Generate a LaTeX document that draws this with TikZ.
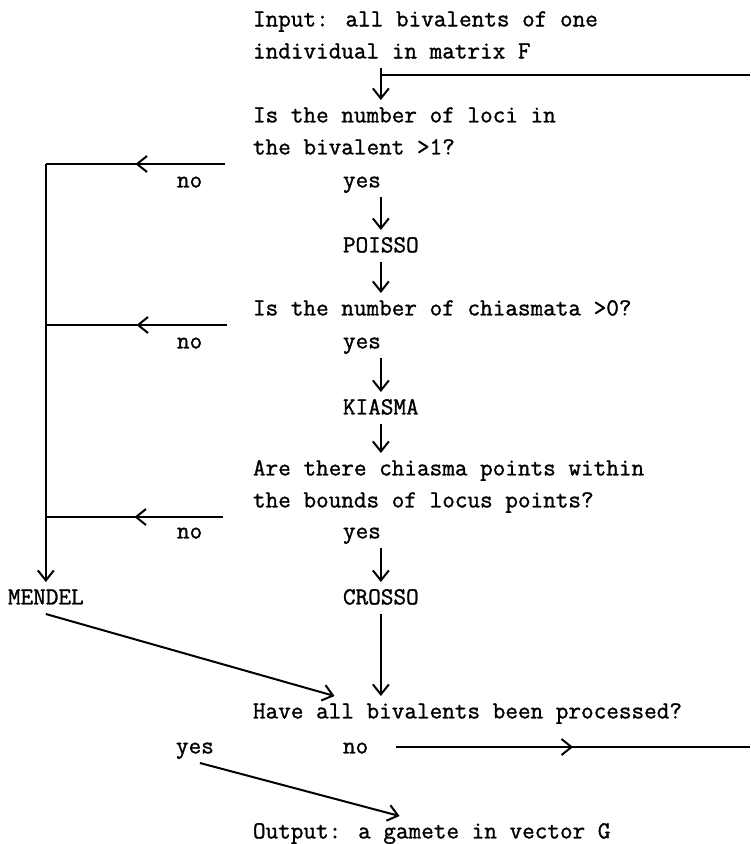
\documentclass[tikz,border=0pt]{standalone}
\usepackage{fontspec}
\newfontfamily\typefont{Latin Modern Mono}[FakeBold=1.2]
\usetikzlibrary{arrows.meta, calc, decorations.markings}

\begin{document}
\begin{tikzpicture}[
      x=0.5pt, y=-0.5pt,
      line width=1pt,
      >={Straight Barb[length=5pt, width=8pt]},
      every node/.style={font=\typefont\fontsize{12.25}{16}\selectfont,
                         anchor=north west, inner sep=0pt, outer sep=0pt},
      txt/.style={text height=11.2pt, text depth=4.8pt},
      qtxt/.style={align=left},
      midarrow/.style={postaction={decorate}, decoration={markings,
                       mark=at position 0.5 with {\arrow{>}}}},
    ]
    \useasboundingbox (0,0) rectangle (750,844);

    \node[qtxt] (input)  at (253, 4)   {\strut Input: all bivalents of one\\individual in matrix F\strut};
    \node[qtxt] (q1)     at (253, 100) {\strut Is the number of loci in\\the bivalent >1?\strut};
    \node[txt]  (no1)    at (177, 165) {no};
    \node[txt]  (yes1)   at (343, 165) {yes};
    \node[txt]  (poisso) at (343, 230) {POISSO};
    \node[txt]  (q2)     at (253, 293) {Is the number of chiasmata >0?};
    \node[txt]  (no2)    at (177, 326) {no};
    \node[txt]  (yes2)   at (343, 326) {yes};
    \node[txt]  (kiasma) at (343, 392) {KIASMA};
    \node[qtxt] (q3)     at (253, 453) {\strut Are there chiasma points within\\the bounds of locus points?\strut};
    \node[txt]  (no3)    at (177, 516) {no};
    \node[txt]  (yes3)   at (343, 516) {yes};
    \node[txt]  (mendel) at (8, 582)   {MENDEL};
    \node[txt]  (crosso) at (343, 582) {CROSSO};
    \node[txt]  (have)   at (253, 696) {Have all bivalents been processed?};
    \node[txt]  (yes4)   at (176, 731) {yes};
    \node[txt]  (no4)    at (343, 731) {no};
    \node[txt]  (output) at (253, 816) {Output: a gamete in vector G};

    \coordinate (rim)  at (750, 0);
    \coordinate (back) at ($(input.south -| poisso)+(0,7)$);

    \draw[->] (input.south -| poisso) -- (q1.north -| poisso);
    \draw (back -| rim) -- (back);

    \draw[midarrow] ($(q1.south west)+(-28,0)$) -- (q1.south west -| mendel);
    \draw[midarrow] ($(q2.south west)+(-26,0)$) -- (q2.south west -| mendel);
    \draw[midarrow] ($(q3.south west)+(-30,0)$) -- (q3.south west -| mendel);
    \draw[->] (q1.south west -| mendel) -- (mendel);

    \draw[->] (yes1.south -| poisso) -- (poisso);
    \draw[->] (poisso) -- (q2.north -| poisso);
    \draw[->] (yes2.south -| kiasma) -- (kiasma);
    \draw[->] (kiasma) -- (q3.north -| kiasma);
    \draw[->] (yes3.south -| crosso) -- (crosso);
    \draw[->] (crosso) -- (have.north -| crosso);
    \draw[->] (mendel.south) -- ($(have.north west)!0.19!(have.north east)$);

    \draw[->] ($(yes4.south)+(5,0)$) -- ($(output.north west)!0.41!(output.north east)$);
    \draw[midarrow] ($(no4.east)+(28,0)$) -- (no4 -| rim);
  \end{tikzpicture}
\end{document}
